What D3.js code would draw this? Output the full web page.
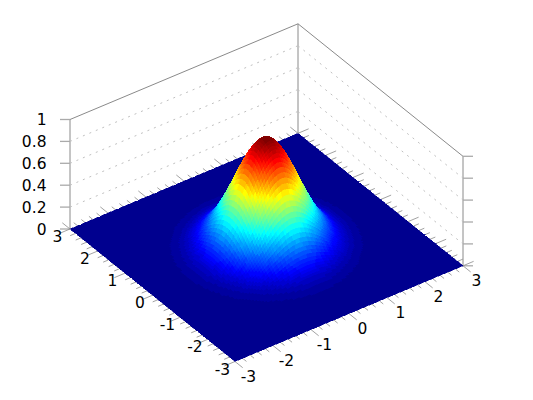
<!DOCTYPE html>
<html><head><meta charset="utf-8">
<script src="https://cdn.jsdelivr.net/npm/d3@7"></script>
<style>html,body{margin:0;padding:0;background:#fff}svg{display:block}text{font-family:"DejaVu Sans";font-size:15.5px;fill:#000}</style>
</head><body><svg id="c" width="533" height="400"></svg>
<script>
const xTicks=[-3,-2,-1,0,1,2,3];
const yTicks=[-3,-2,-1,0,1,2,3];
const zTicks=[0,0.2,0.4,0.6,0.8,1];
const radii=[0,0.1,0.2,0.3,0.4,0.5,0.6,0.7,0.8,0.9,1,1.1,1.2,1.3,1.4,1.5,1.6,1.7,1.8,1.9,2,2.2,2.4,2.6,2.8,3,4.3];
const heights=[1,0.99,0.961,0.914,0.852,0.779,0.698,0.613,0.527,0.445,0.368,0.298,0.237,0.185,0.141,0.105,0.077,0.056,0.039,0.027,0.018,0.008,0.003,0.001,0.0004,0.0001,0];
const gridN=120;

const svg=d3.select("#c");
const ox=235,oy=361.5;
const xToSX=d3.scaleLinear([-3,3],[0,228]),xToSY=d3.scaleLinear([-3,3],[0,-95.7]);
const yToSX=d3.scaleLinear([-3,3],[0,-165]),yToSY=d3.scaleLinear([-3,3],[0,-132.5]);
const zToSY=d3.scaleLinear([0,1],[0,-109.5]);
const P=(x,y,z=0)=>[ox+xToSX(x)+yToSX(y),oy+xToSY(x)+yToSY(y)+zToSY(z)];
const prof=d3.scaleLinear(radii,heights).clamp(true);
const zf=(x,y)=>prof(Math.hypot(x,y));
const jetStops=["#00008f","#0000ff","#00ffff","#ffff00","#ff0000","#800000"];
const jetPos=[0,0.109,0.365,0.619,0.873,1];
const jetScale=d3.scaleLinear(jetPos,jetStops).interpolate(d3.interpolateRgb);
const jet=v=>jetScale(Math.floor(Math.min(v,0.9999)*64)/63);

const line=(a,b,stroke,w=1,dash)=>svg.append("line").attr("x1",a[0]).attr("y1",a[1]).attr("x2",b[0]).attr("y2",b[1])
  .attr("stroke",stroke).attr("stroke-width",w).attr("stroke-dasharray",dash||null);
const grey="#8a8a8a";
line(P(-3,3,1),P(3,3,1),grey);line(P(3,3,1),P(3,-3,1),grey);
line(P(-3,3,0),P(-3,3,1),grey);line(P(3,3,0),P(3,3,1),grey);line(P(3,-3,0),P(3,-3,1),grey);
zTicks.slice(1,-1).forEach(z=>{
  line(P(-3,3,z),P(3,3,z),"#c0c0c0",1,"2 5");
  line(P(3,3,z),P(3,-3,z),"#c0c0c0",1,"2 5");
});
zTicks.forEach(z=>{
  const a=P(-3,3,z),b=P(3,-3,z);
  line(a,[a[0]-10,a[1]],"#aaa",1.3);line(b,[b[0]+10,b[1]],"#aaa",1.3);
  svg.append("text").attr("x",46.5).attr("y",a[1]+5.5).attr("text-anchor","end").text(z);
});
const fine=d3.range(-15,16).map(i=>i/5);
fine.forEach(t=>{
  const major=Math.abs(t-Math.round(t))<1e-6, L=major?0.28:0.14;
  line(P(t,-3),P(t,-3-L),"#8a8a8a",0.8);
  line(P(t,3),P(t,3+L),"#8a8a8a",0.8);
  line(P(-3,t),P(-3-L,t),"#8a8a8a",0.8);
  line(P(3,t),P(3+L,t),"#8a8a8a",0.8);
});
const axisStep=d3.scaleLinear([0,gridN],[-3,3]);
const cells=[];
for(let i=0;i<gridN;i++)for(let j=0;j<gridN;j++){
  const x0=axisStep(i),x1=axisStep(i+1),y0=axisStep(j),y1=axisStep(j+1);
  const zs=[zf(x0,y0),zf(x1,y0),zf(x1,y1),zf(x0,y1)];
  cells.push({pts:[P(x0,y0,zs[0]),P(x1,y0,zs[1]),P(x1,y1,zs[2]),P(x0,y1,zs[3])],c:jet(d3.mean(zs)),o:i+j});
}
cells.sort((a,b)=>b.o-a.o);
svg.append("g").attr("shape-rendering","crispEdges").selectAll("polygon").data(cells).join("polygon")
  .attr("points",d=>d.pts.map(p=>p.map(v=>+v.toFixed(2)).join(",")).join(" "))
  .attr("fill",d=>d.c).attr("stroke",d=>d.c).attr("stroke-width",0.5);
xTicks.forEach(t=>{const p=P(t,-3);svg.append("text").attr("x",p[0]+13.5).attr("y",p[1]+20).attr("text-anchor","middle").text(t);});
yTicks.forEach(t=>{const p=P(-3,t);svg.append("text").attr("x",p[0]-12.5).attr("y",p[1]+13).attr("text-anchor","middle").text(t);});
</script></body></html>
